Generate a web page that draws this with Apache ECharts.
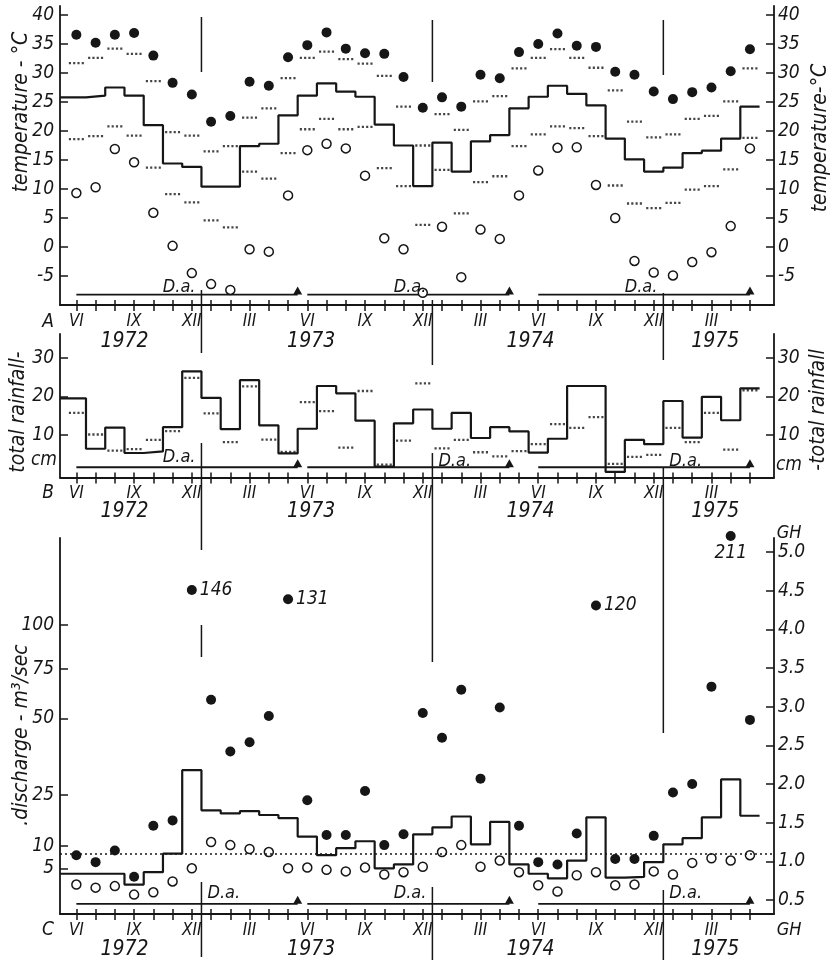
<!DOCTYPE html>
<html>
<head>
<meta charset="utf-8">
<script src="https://cdn.jsdelivr.net/npm/echarts@6/dist/echarts.min.js"></script>
<style>
html, body { margin: 0; background: #fff; }
#chart { width: 834px; height: 965px; }
</style>
</head>
<body>
<div id="chart"></div>
<script>
// months Jun 1972 .. May 1975
var months = ['VI','VII','VIII','IX','X','XI','XII',
  'I','II','III','IV','V','VI','VII','VIII','IX','X','XI','XII',
  'I','II','III','IV','V','VI','VII','VIII','IX','X','XI','XII',
  'I','II','III','IV','V'];
var monthLabelIdx = [0, 3, 6, 9, 12, 15, 18, 21, 24, 27, 30, 33];
var years = ['1972', '1973', '1974', '1975'];
var yearPos = [2.5, 12.2, 23.6, 33.2];
var yearBreaks = [6.5, 18.5, 30.5];

// A - temperature (deg C)
var tempMax = [36.6, 35.2, 36.6, 36.9, 33.0, 28.3, 26.3,
  21.6, 22.6, 28.5, 27.8, 32.7, 34.8, 37.0, 34.2, 33.4, 33.3, 29.3, 24.0,
  25.8, 24.2, 29.7, 29.1, 33.6, 35.0, 36.8, 34.7, 34.5, 30.2, 29.7, 26.8,
  25.5, 26.7, 27.5, 30.3, 34.1];
var tempMin = [9.3, 10.3, 16.9, 14.6, 5.9, 0.2, -4.5,
  -6.4, -7.4, -0.4, -0.8, 8.9, 16.7, 17.8, 17.0, 12.3, 1.5, -0.4, -7.9,
  3.5, -5.2, 3.0, 1.4, 8.9, 13.2, 17.1, 17.2, 10.7, 5.0, -2.4, -4.4,
  -4.9, -2.6, -0.9, 3.6, 17.0];
var tempMean = [25.8, 26.1, 27.5, 26.1, 21.0, 14.4, 13.8,
  10.4, 10.4, 17.4, 17.8, 22.7, 26.1, 28.2, 26.8, 25.9, 21.1, 17.5, 10.5,
  18.0, 13.0, 18.2, 19.3, 23.9, 25.9, 27.8, 26.4, 24.4, 18.7, 15.1, 13.0,
  13.7, 16.2, 16.6, 18.7, 24.2];
var tempMaxMean = [31.7, 32.6, 34.2, 33.3, 28.6, 19.8, 19.2,
  16.5, 17.4, 22.3, 23.9, 29.1, 32.6, 33.7, 32.4, 31.6, 29.5, 24.2, 17.5,
  22.9, 20.2, 25.1, 26.0, 30.8, 32.6, 34.1, 32.6, 30.9, 27.0, 21.6, 18.9,
  19.4, 22.1, 22.6, 25.1, 30.8];
var tempMinMean = [18.6, 19.1, 20.8, 19.2, 13.7, 9.1, 7.7,
  4.6, 3.4, 13.0, 11.8, 16.2, 20.3, 22.1, 20.3, 20.7, 13.6, 10.5, 3.8,
  13.3, 5.8, 11.2, 12.2, 17.4, 19.4, 20.8, 20.5, 19.1, 10.6, 7.5, 6.7,
  7.6, 9.9, 10.5, 13.4, 18.8];
var tempTicks = [-5, 0, 5, 10, 15, 20, 25, 30, 35, 40];

// B - total rainfall (cm)
var rainTotal = [19.5, 6.4, 11.9, 5.3, 5.7, 12.0, 26.5,
  19.6, 11.5, 24.2, 12.5, 5.2, 11.6, 22.7, 20.8, 13.7, 1.8, 13.0, 16.6,
  11.6, 15.7, 9.2, 12.0, 10.9, 5.4, 9.0, 22.7, 22.7, 0.4, 8.7, 7.6,
  18.8, 9.3, 19.9, 13.8, 22.1];
var rainNormal = [15.7, 10.1, 5.9, 6.3, 8.7, 11.0, 24.8,
  15.6, 8.1, 22.6, 8.8, 5.6, 18.5, 16.2, 6.7, 21.4, 2.3, 8.5, 23.4,
  6.5, 8.7, 5.5, 4.4, 5.8, 7.6, 12.8, 11.8, 14.6, 2.5, 4.3, 4.8,
  11.8, 8.1, 15.7, 6.2, 21.6];
var rainTicks = [10, 20, 30];

// C - discharge, plotted as gauge height (GH)
var ghMax = [1.08, 0.99, 1.14, 0.80, 1.46, 1.53, 4.51,
  3.09, 2.42, 2.54, 2.88, 4.39, 1.79, 1.34, 1.34, 1.91, 1.21, 1.35, 2.92,
  2.60, 3.22, 2.07, 2.99, 1.46, 0.99, 0.96, 1.36, 4.31, 1.03, 1.03, 1.33,
  1.89, 2.00, 3.26, 5.21, 2.83];
var ghMin = [0.70, 0.66, 0.68, 0.57, 0.60, 0.74, 0.91,
  1.25, 1.21, 1.16, 1.12, 0.91, 0.92, 0.89, 0.87, 0.92, 0.83, 0.86, 0.93,
  1.12, 1.21, 0.93, 1.01, 0.86, 0.69, 0.61, 0.82, 0.86, 0.69, 0.70, 0.87,
  0.83, 0.98, 1.04, 1.01, 1.08];
var ghMean = [0.84, 0.84, 0.84, 0.70, 0.86, 1.10, 2.18,
  1.66, 1.62, 1.65, 1.60, 1.56, 1.32, 1.08, 1.17, 1.26, 0.91, 0.96, 1.35,
  1.44, 1.58, 1.22, 1.51, 0.96, 0.84, 0.78, 1.01, 1.57, 0.79, 0.80, 0.99,
  1.22, 1.30, 1.57, 2.06, 1.59];
var peakIdx = [6, 11, 27, 34];
var peakText = ['146', '131', '120', '211'];
var ghRef = 1.1;
var ghTicks = [0.5, 1.0, 1.5, 2.0, 2.5, 3.0, 3.5, 4.0, 4.5, 5.0];
var dischargeTicks = ['5', '10', '25', '50', '75', '100'];
var dischargeTickGH = [0.91, 1.20, 1.86, 2.85, 3.49, 4.06];

// D.a. periods
var daStart = [0, 12, 24];
var daEnd = [11.5, 22.5, 35];

var chart = echarts.init(document.getElementById('chart'));
var INK = '#161616';
var FONT = "'Liberation Sans Narrow','DejaVu Sans Condensed','Liberation Sans',sans-serif";
var xMin = -0.85, xMax = 36.25;

function pts(arr) { return arr.map(function (v, i) { return [i, v]; }); }
function steps(arr) {
  var d = arr.map(function (v, i) { return [i === 0 ? xMin : i - 0.5, v]; });
  d.push([arr.length - 0.5, arr[arr.length - 1]]);
  return d;
}
var dotDash = 'path://M0,0h2v2h-2zM4,0h2v2h-2zM8,0h2v2h-2zM12,0h2v2h-2z';

function xAxes(g) {
  return [{
    type: 'value', gridIndex: g, min: xMin, max: xMax, position: 'bottom',
    axisLine: { show: true, onZero: false, lineStyle: { color: INK, width: 1.8 } },
    axisTick: { show: true, inside: true, length: 5, customValues: months.map(function (m, i) { return i; }), lineStyle: { color: INK, width: 1.5 } },
    axisLabel: { show: true, margin: 8, customValues: monthLabelIdx, color: INK, fontStyle: 'italic', fontFamily: FONT, fontSize: 17,
      formatter: function (v) { return months[Math.round(v)]; } },
    splitLine: { show: false }
  }, {
    type: 'value', gridIndex: g, min: xMin, max: xMax, position: 'bottom',
    axisLine: { show: false, onZero: false },
    axisTick: { show: true, inside: false, length: 6, customValues: months.map(function (m, i) { return i; }), lineStyle: { color: INK, width: 1.5 } },
    axisLabel: { show: false }, splitLine: { show: false }
  }];
}
function yAxis(g, pos, min, max, ticks, fmt, margin) {
  return {
    type: 'value', gridIndex: g, position: pos, min: min, max: max,
    axisLine: { show: true, onZero: false, lineStyle: { color: INK, width: 1.8 } },
    axisTick: { show: true, inside: true, length: 8, customValues: ticks, lineStyle: { color: INK, width: 1.5 } },
    axisLabel: { show: true, customValues: ticks, margin: margin, color: INK, fontStyle: 'italic', fontFamily: FONT, fontSize: 19,
      formatter: fmt },
    splitLine: { show: false }
  };
}
function scatterSeries(xi, yi, data, filled, size) {
  return { type: 'scatter', xAxisIndex: xi, yAxisIndex: yi, data: data, symbol: 'circle', symbolSize: size, clip: false,
    itemStyle: { color: filled ? INK : '#fff', borderColor: INK, borderWidth: filled ? 0 : 1.5, opacity: 1 }, z: 4 };
}
function dashSeries(xi, yi, arr) {
  return { type: 'scatter', xAxisIndex: xi, yAxisIndex: yi, data: pts(arr), symbol: dotDash, symbolSize: [15, 2.3],
    itemStyle: { color: INK }, z: 2 };
}
function stepSeries(xi, yi, arr) {
  return { type: 'line', xAxisIndex: xi, yAxisIndex: yi, data: steps(arr), step: 'end', showSymbol: false, symbol: 'none',
    lineStyle: { color: INK, width: 2.2 }, z: 3 };
}
function daSeries(xi, yi, level) {
  return daStart.map(function (s, k) {
    return { type: 'line', xAxisIndex: xi, yAxisIndex: yi,
      data: [{ value: [s, level], symbol: 'none' },
             { value: [daEnd[k], level], symbol: 'triangle', symbolSize: [9, 8], symbolOffset: [0, -4] }],
      lineStyle: { color: INK, width: 1.8 }, itemStyle: { color: INK }, z: 3 };
  });
}

var maxGHData = ghMax.map(function (v, i) {
  var k = peakIdx.indexOf(i);
  if (k < 0) return [i, v];
  return { value: [i, v], label: { show: true, formatter: peakText[k], position: k === 3 ? 'bottom' : 'right',
    distance: k === 3 ? 3 : 3, color: INK, fontStyle: 'italic', fontFamily: FONT, fontSize: 19 } };
});

var series = [
  scatterSeries(0, 0, pts(tempMax), true, 10),
  scatterSeries(0, 0, pts(tempMin), false, 9),
  stepSeries(0, 0, tempMean),
  dashSeries(0, 0, tempMaxMean),
  dashSeries(0, 0, tempMinMean),
  stepSeries(2, 2, rainTotal),
  dashSeries(2, 2, rainNormal),
  scatterSeries(4, 4, maxGHData, true, 10),
  scatterSeries(4, 4, pts(ghMin), false, 9)
];
var ghStep = stepSeries(4, 4, ghMean);
ghStep.markLine = { silent: true, symbol: 'none', label: { show: false },
  lineStyle: { color: INK, type: [2, 3], width: 1.6 }, data: [{ yAxis: ghRef }] };
series.push(ghStep);
series = series.concat(daSeries(0, 0, -8.2), daSeries(2, 2, 1.6), daSeries(4, 4, 0.45));

var ident = function (v) { return String(v); };
var option = {
  animation: false,
  backgroundColor: '#fff',
  grid: [
    { left: 60, right: 60, top: 6, height: 299, outerBoundsMode: 'none' },
    { left: 60, right: 60, top: 334, height: 143.5, outerBoundsMode: 'none' },
    { left: 60, right: 60, top: 538, height: 376, outerBoundsMode: 'none' }
  ],
  xAxis: [].concat(xAxes(0), xAxes(1), xAxes(2)),
  yAxis: [
    yAxis(0, 'left', -10, 41.55, tempTicks, ident, 6),
    yAxis(0, 'right', -10, 41.55, tempTicks, ident, 4),
    yAxis(1, 'left', -1.06, 36.2, rainTicks, ident, 6),
    yAxis(1, 'right', -1.06, 36.2, rainTicks, ident, 4),
    yAxis(2, 'left', 0.319, 5.183, dischargeTickGH, function (v) {
      var k = dischargeTickGH.indexOf(v); return k < 0 ? '' : dischargeTicks[k]; }, 6),
    yAxis(2, 'right', 0.319, 5.183, ghTicks, function (v) { return v.toFixed(1); }, 4)
  ],
  series: series
};
chart.setOption(option);

// annotations: year separators, D.a. labels, titles
function px(v) { return chart.convertToPixel({ xAxisIndex: 0 }, v); }
function txt(t, x, y, size, align, rot) {
  return { type: 'text', x: x, y: y, rotation: rot || 0, silent: true, z: 10,
    style: { text: t, fill: INK, font: 'italic ' + size + 'px ' + FONT, textAlign: align || 'center', textVerticalAlign: 'middle' } };
}
var yearLineSegs = [
  [[17, 72], [290, 353], [443, 550], [625, 657], [882, 957]],
  [[20, 82], [300, 365], [453, 662], [887, 960]],
  [[20, 75], [293, 360], [468, 733], [890, 960]]
];
var daLabelY = [[287, 287, 287], [457, 461, 461], [893, 893, 893]];
var daLabelSide = [[-1, -1, -1], [-1, 1, 1], [1, -1, 1]];
var g = [];
yearBreaks.forEach(function (b, k) {
  var x = px(b);
  yearLineSegs[k].forEach(function (s) {
    g.push({ type: 'line', silent: true, z: 5, shape: { x1: x, y1: s[0], x2: x, y2: s[1] },
      style: { stroke: INK, lineWidth: 1.5 } });
  });
  for (var p = 0; p < 3; p++) {
    var side = daLabelSide[p][k];
    g.push(txt('D.a.', x + side * 6, daLabelY[p][k], 18, side < 0 ? 'right' : 'left'));
  }
});
var yearRowY = [342, 512, 950];
yearRowY.forEach(function (y) {
  years.forEach(function (t, i) { g.push(txt(t, px(yearPos[i]), y, 21)); });
});
g.push(txt('A', 48, 322, 19), txt('B', 48, 493, 19), txt('C', 48, 930, 19));
g.push(txt('temperature - °C', 22, 112, 21, 'center', Math.PI / 2));
g.push(txt('temperature-°C', 821, 138, 21, 'center', Math.PI / 2));
g.push(txt('total rainfall-', 19, 412, 21, 'center', Math.PI / 2));
g.push(txt('-total rainfall', 819, 410, 21, 'center', Math.PI / 2));
g.push(txt('.discharge - m³/sec', 22, 735, 21, 'center', Math.PI / 2));
g.push(txt('cm', 44, 460, 19), txt('cm', 789, 465, 19));
g.push(txt('GH', 789, 533, 18), txt('GH', 789, 930, 18));
chart.setOption({ graphic: g });
</script>
</body>
</html>
